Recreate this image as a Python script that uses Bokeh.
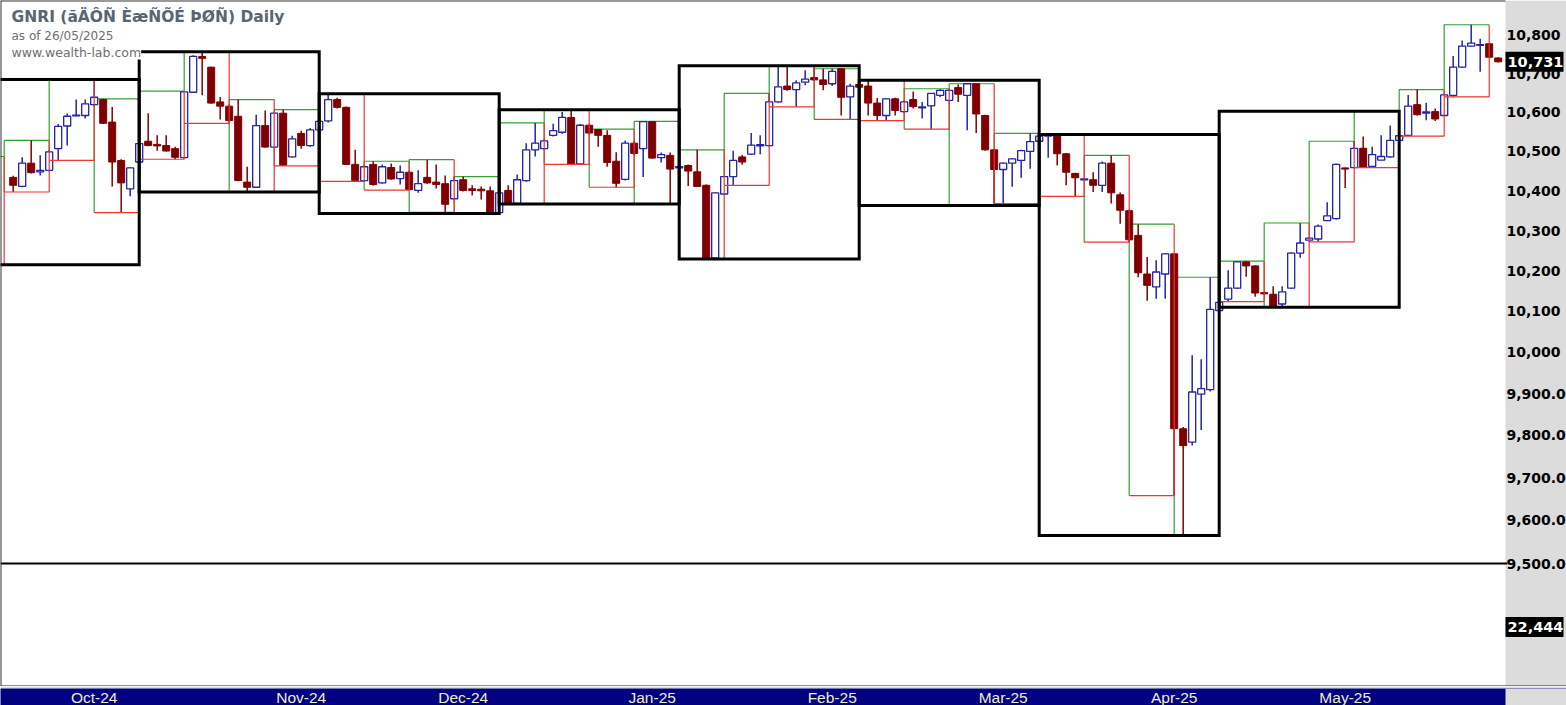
from bokeh.plotting import figure
from bokeh.models import Range1d, Label, Span, ColumnDataSource, BoxAnnotation
from bokeh.layouts import column
from bokeh.core.properties import value
from bokeh.embed import file_html
from bokeh.resources import INLINE

# ---------------- data ----------------
first_bar = 1
opens = [
    10434, 10411, 10470, 10448, 10452, 10507, 10565, 10591, 10592, 10620,
    10633, 10575, 10477, 10405, 10473, 10526, 10518, 10515, 10507, 10484,
    10652, 10745, 10717, 10627, 10616, 10590, 10422, 10409, 10566, 10511,
    10598, 10486, 10546, 10515, 10555, 10578, 10633, 10613, 10467, 10426,
    10467, 10420, 10459, 10431, 10447, 10401, 10434, 10422, 10418, 10380,
    10428, 10405, 10404, 10400, 10345, 10401, 10368, 10426, 10504, 10507,
    10541, 10549, 10587, 10468, 10567, 10556, 10541, 10475, 10429, 10521,
    10507, 10576, 10484, 10490, 10458, 10464, 10448, 10414, 10232, 10392,
    10436, 10486, 10493, 10514, 10515, 10627, 10668, 10659, 10678, 10690,
    10684, 10674, 10713, 10640, 10672, 10668, 10624, 10592, 10635, 10602,
    10633, 10612, 10617, 10644, 10631, 10664, 10644, 10674, 10592, 10504,
    10454, 10470, 10477, 10500, 10526, 10539, 10541, 10494, 10444, 10428,
    10428, 10414, 10470, 10390, 10350, 10288, 10192, 10160, 10192, 10242,
    9816, 9784, 9899, 9910, 10102, 10130, 10157, 10222, 10212, 10146,
    10142, 10118, 10157, 10244, 10276, 10279, 10325, 10330, 10458, 10459,
    10508, 10462, 10478, 10486, 10528, 10541, 10620, 10598, 10602, 10592,
    10644, 10717, 10772, 10774, 10778, 10741,
]
highs = [
    10438, 10485, 10528, 10490, 10503, 10570, 10597, 10633, 10633, 10685,
    10635, 10614, 10480, 10460, 10522, 10598, 10541, 10541, 10512, 10655,
    10748, 10757, 10718, 10640, 10620, 10633, 10461, 10594, 10605, 10600,
    10607, 10540, 10553, 10560, 10580, 10648, 10638, 10615, 10504, 10465,
    10475, 10467, 10469, 10464, 10451, 10452, 10479, 10467, 10439, 10436,
    10436, 10414, 10411, 10411, 10400, 10414, 10441, 10521, 10573, 10531,
    10571, 10601, 10607, 10570, 10570, 10557, 10554, 10498, 10528, 10527,
    10577, 10577, 10497, 10497, 10463, 10467, 10504, 10416, 10396, 10438,
    10502, 10491, 10547, 10541, 10649, 10721, 10718, 10683, 10709, 10718,
    10713, 10713, 10713, 10674, 10676, 10683, 10637, 10637, 10638, 10632,
    10654, 10627, 10650, 10660, 10661, 10672, 10674, 10674, 10594, 10506,
    10472, 10483, 10504, 10546, 10541, 10543, 10543, 10496, 10446, 10431,
    10447, 10474, 10490, 10396, 10353, 10316, 10234, 10226, 10244, 10244,
    9820, 9993, 9983, 10184, 10125, 10201, 10224, 10224, 10213, 10148,
    10162, 10162, 10246, 10319, 10284, 10315, 10371, 10469, 10459, 10526,
    10538, 10512, 10541, 10566, 10603, 10645, 10659, 10625, 10610, 10648,
    10746, 10787, 10828, 10791, 10780, 10743,
]
lows = [
    10397, 10409, 10444, 10439, 10449, 10477, 10515, 10590, 10584, 10615,
    10570, 10411, 10345, 10386, 10470, 10513, 10502, 10500, 10480, 10482,
    10650, 10644, 10622, 10582, 10572, 10424, 10397, 10408, 10510, 10509,
    10463, 10484, 10507, 10512, 10552, 10574, 10610, 10466, 10425, 10424,
    10413, 10418, 10428, 10416, 10402, 10395, 10418, 10406, 10346, 10378,
    10398, 10388, 10378, 10343, 10343, 10367, 10367, 10423, 10487, 10505,
    10538, 10545, 10467, 10467, 10544, 10512, 10461, 10409, 10426, 10490,
    10435, 10482, 10472, 10368, 10456, 10412, 10410, 10229, 10229, 10390,
    10414, 10466, 10491, 10493, 10512, 10625, 10656, 10614, 10670, 10682,
    10657, 10668, 10592, 10582, 10660, 10592, 10579, 10579, 10592, 10598,
    10610, 10584, 10557, 10640, 10628, 10627, 10554, 10547, 10502, 10363,
    10368, 10410, 10433, 10456, 10524, 10484, 10464, 10414, 10386, 10427,
    10397, 10397, 10368, 10317, 10271, 10184, 10126, 10131, 10131, 9658,
    9565, 9776, 9813, 9905, 10100, 10124, 10155, 10185, 10136, 10140,
    10110, 10110, 10155, 10232, 10272, 10272, 10325, 10328, 10407, 10457,
    10459, 10460, 10478, 10484, 10526, 10539, 10592, 10580, 10578, 10590,
    10640, 10715, 10771, 10705, 10740, 10729,
]
closes = [
    10414, 10470, 10446, 10452, 10499, 10564, 10590, 10593, 10622, 10639,
    10572, 10473, 10420, 10458, 10520, 10515, 10514, 10501, 10485, 10653,
    10745, 10740, 10624, 10616, 10579, 10426, 10409, 10566, 10511, 10598,
    10465, 10532, 10515, 10555, 10577, 10633, 10613, 10467, 10426, 10461,
    10416, 10461, 10430, 10447, 10403, 10418, 10420, 10416, 10366, 10426,
    10401, 10401, 10400, 10344, 10395, 10368, 10428, 10504, 10521, 10527,
    10553, 10587, 10468, 10567, 10547, 10541, 10472, 10419, 10521, 10495,
    10576, 10483, 10492, 10455, 10461, 10450, 10411, 10232, 10395, 10436,
    10477, 10473, 10516, 10517, 10627, 10666, 10659, 10676, 10686, 10684,
    10672, 10706, 10639, 10668, 10665, 10624, 10592, 10635, 10605, 10627,
    10615, 10614, 10649, 10657, 10657, 10647, 10674, 10596, 10504, 10454,
    10470, 10481, 10502, 10525, 10539, 10542, 10494, 10447, 10433, 10430,
    10414, 10470, 10395, 10351, 10277, 10195, 10164, 10197, 10242, 9816,
    9776, 9904, 9912, 10105, 10122, 10157, 10222, 10212, 10145, 10143,
    10112, 10148, 10244, 10269, 10281, 10311, 10337, 10467, 10455, 10508,
    10459, 10492, 10487, 10528, 10540, 10616, 10594, 10601, 10583, 10645,
    10717, 10772, 10780, 10776, 10743, 10731,
]

# 5-bar sub-period boxes: (start, start+5]; the first one starts at bar -5
sub_len = 5
sub_first_start = -5
sub_high = [10487, 10528, 10685, 10635, 10655, 10757, 10633, 10607, 10648, 10475,
            10479, 10436, 10573, 10607, 10557, 10577, 10504, 10649, 10721, 10713,
            10683, 10661, 10674, 10546, 10543, 10490, 10316, 10184, 10224, 10319,
            10526, 10603, 10659, 10828]
sub_low = [10215, 10397, 10477, 10345, 10480, 10572, 10397, 10463, 10424, 10402,
           10346, 10343, 10367, 10467, 10409, 10368, 10229, 10414, 10614, 10582,
           10579, 10557, 10363, 10368, 10386, 10271, 9658, 9565, 10124, 10110,
           10272, 10459, 10539, 10640]
subs_per_period = 4   # completed 20-bar periods are drawn as black boxes

y_ticks = [9500, 9600, 9700, 9800, 9900, 10000, 10100, 10200,
           10300, 10400, 10500, 10600, 10700, 10800]
y_tick_labels = ["9,500.0", "9,600.0", "9,700.0", "9,800.0", "9,900.0", "10,000", "10,100",
                 "10,200", "10,300", "10,400", "10,500", "10,600", "10,700", "10,800"]
last_price_text = "10,731"
volume_text = "22,444"
month_labels = ["Oct-24", "Nov-24", "Dec-24", "Jan-25", "Feb-25", "Mar-25", "Apr-25", "May-25"]
month_label_bars = [10.0, 33.0, 51.0, 72.0, 92.0, 111.0, 130.0, 149.0]

title_text = "GNRI (ãÄÔÑ ÈæÑÕÉ ÞØÑ) Daily"
asof_text = "as of 26/05/2025"
site_text = "www.wealth-lab.com"

# ---------------- layout / style ----------------
W = 1566
H_MAIN = 686
H_DATE = 19
PLOT_W = 1505          # width of the price/volume area; the rest is the value scale
PRICE_H = 563          # price pane height, volume pane below it
PX_PER_BAR = 9.0
UP_COL = "#2424a8"
DN_COL = "#800000"
GREEN = "#33a033"
RED = "#f03535"
AXIS_BG = "#dcdcdc"
MARK_W, MARK_H = 58, 20   # px size of the black value markers

price_top = 10892.0
price_bottom = 9500.0
y_bottom = price_bottom * (price_bottom / price_top) ** ((H_MAIN - PRICE_H) / PRICE_H)

x0 = -0.41
x_axis_start = x0 + PLOT_W / PX_PER_BAR
x_range = Range1d(x0, x0 + W / PX_PER_BAR)

p = figure(width=W, height=H_MAIN, x_range=x_range,
           y_range=Range1d(y_bottom, price_top), y_axis_type="log",
           x_axis_location=None, y_axis_location=None,
           toolbar_location=None, output_backend="svg",
           min_border_left=0, min_border_top=0, min_border_bottom=0, min_border_right=0,
           background_fill_color="white", border_fill_color="white")
p.outline_line_color = None
p.xgrid.visible = False
p.ygrid.visible = False

# value-scale area (right) in grey
p.add_layout(BoxAnnotation(left=x_axis_start, fill_color=AXIS_BG, fill_alpha=1.0,
                           line_color=None, level="underlay"))

# sub-period step boxes: green = left+top edge, red = bottom+right edge
starts = [sub_first_start + k * sub_len for k in range(len(sub_high))]
g_xs = [[s, s, s + sub_len] for s in starts]
g_ys = [[lo, hi, hi] for hi, lo in zip(sub_high, sub_low)]
r_xs = [[s, s + sub_len, s + sub_len] for s in starts]
r_ys = [[lo, lo, hi] for hi, lo in zip(sub_high, sub_low)]

p.multi_line(xs=g_xs, ys=g_ys, line_color=GREEN, line_width=1.2)

# candles
xs = list(range(first_bar, first_bar + len(opens)))
up = dict(x=[], top=[], bottom=[], h=[], l=[])
dn = dict(x=[], top=[], bottom=[], h=[], l=[])
for x, o, h, l, c in zip(xs, opens, highs, lows, closes):
    d = up if c >= o else dn
    d["x"].append(x)
    d["top"].append(max(o, c))
    d["bottom"].append(min(o, c))
    d["h"].append(h)
    d["l"].append(l)
up_src = ColumnDataSource(up)
dn_src = ColumnDataSource(dn)
p.segment(x0="x", y0="l", x1="x", y1="h", source=up_src, line_color=UP_COL, line_width=1.5)
p.segment(x0="x", y0="l", x1="x", y1="h", source=dn_src, line_color=DN_COL, line_width=1.5)
p.vbar(x="x", width=0.78, top="top", bottom="bottom", source=up_src,
       fill_color="white", line_color=UP_COL, line_width=1.3)
p.vbar(x="x", width=0.78, top="top", bottom="bottom", source=dn_src,
       fill_color=DN_COL, line_color=DN_COL, line_width=1)

p.multi_line(xs=r_xs, ys=r_ys, line_color=RED, line_width=1.2)

# completed 20-bar period boxes
per_left, per_right, per_top, per_bot = [], [], [], []
for k in range(len(sub_high) // subs_per_period):
    a = k * subs_per_period
    b = a + subs_per_period
    if b > len(sub_high) - 2:
        break
    per_left.append(starts[a])
    per_right.append(starts[a] + sub_len * subs_per_period)
    per_top.append(max(sub_high[a:b]))
    per_bot.append(min(sub_low[a:b]))
p.quad(left=per_left, right=per_right, top=per_top, bottom=per_bot,
       fill_color=None, line_color="black", line_width=3, line_join="miter")

# pane borders
p.segment(x0=[x0], y0=[price_top], x1=[x_axis_start], y1=[price_top],
          line_color="#333333", line_width=2)
p.add_layout(Span(location=x0, dimension="height", line_color="#333333", line_width=2))
p.segment(x0=[x0], y0=[price_bottom], x1=[x_axis_start + 0.2], y1=[price_bottom],
          line_color="black", line_width=2)
p.add_layout(Span(location=y_bottom, dimension="width", line_color="#222222", line_width=2))

# value scale labels
p.text(x=[x_axis_start] * len(y_ticks), y=y_ticks, text=y_tick_labels,
       x_offset=1, text_align="left", text_baseline="middle",
       text_font=value("DejaVu Sans"), text_font_style="bold",
       text_font_size="14px", text_color="black")

# last price / volume markers (black boxes with white text on the value scale)
vol_y = y_bottom * (price_bottom / y_bottom) ** ((H_MAIN - 626.5) / (H_MAIN - PRICE_H))
mark_y = [closes[-1], vol_y]
mark_text = [last_price_text, volume_text]
mark_x = [x_axis_start + (MARK_W / 2.0) / PX_PER_BAR] * 2
p.rect(x=mark_x, y=mark_y, width=MARK_W, height=MARK_H,
       width_units="screen", height_units="screen",
       fill_color="black", line_color=None)
p.text(x=[x_axis_start] * 2, y=mark_y, text=mark_text, x_offset=2,
       text_align="left", text_baseline="middle",
       text_font=value("DejaVu Sans"), text_font_style="bold",
       text_font_size="14.5px", text_color="white")

# titles
p.add_layout(Label(x=11, y=H_MAIN - 16.5, x_units="screen", y_units="screen",
                   text=title_text, text_font="DejaVu Sans", text_font_style="bold",
                   text_font_size="15.5px", text_color="#5a6570", text_baseline="middle",
                   background_fill_color="white"))
p.add_layout(Label(x=11, y=H_MAIN - 35, x_units="screen", y_units="screen",
                   text=asof_text, text_font="DejaVu Sans",
                   text_font_size="12px", text_color="#6e6e6e", text_baseline="middle",
                   background_fill_color="white"))
p.add_layout(Label(x=11, y=H_MAIN - 51.5, x_units="screen", y_units="screen",
                   text=site_text, text_font="DejaVu Sans",
                   text_font_size="12.5px", text_color="#6e6e6e", text_baseline="middle",
                   background_fill_color="white"))

# date bar (same horizontal scale as the chart; grey under the value scale)
dfig = figure(width=W, height=H_DATE, x_range=x_range, y_range=Range1d(0, 1),
              toolbar_location=None, output_backend="svg",
              x_axis_location=None, y_axis_location=None,
              min_border_left=0, min_border_right=0, min_border_top=2,
              min_border_bottom=0, background_fill_color="#000080",
              border_fill_color=AXIS_BG)
dfig.outline_line_color = None
dfig.xgrid.visible = False
dfig.ygrid.visible = False
dfig.add_layout(BoxAnnotation(left=x_axis_start, fill_color=AXIS_BG, fill_alpha=1.0,
                              line_color=None, level="underlay"))
dfig.text(x=month_label_bars, y=[0.5] * len(month_labels), text=month_labels,
          text_align="center", text_baseline="middle",
          text_font=value("Liberation Sans"),
          text_font_size="15.5px", text_color="#eeeec8")

layout = column(p, dfig)
open("out.html", "w").write(file_html(layout, INLINE))
